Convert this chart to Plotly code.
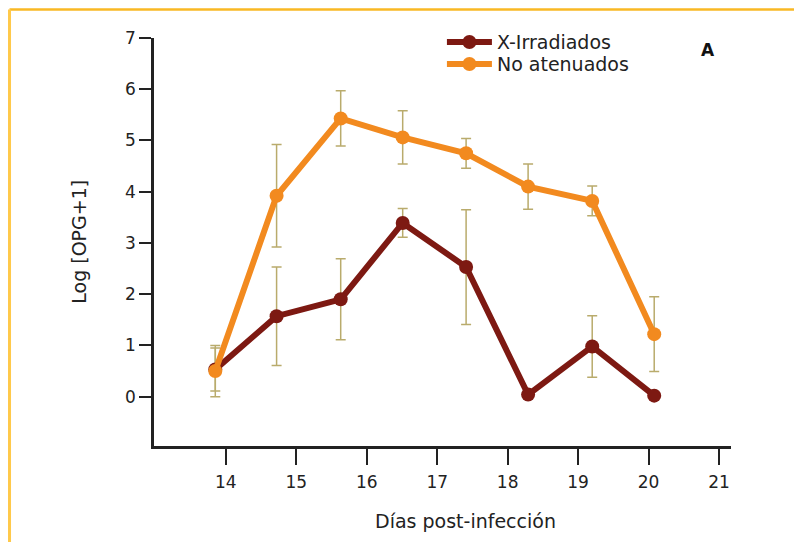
import plotly.graph_objects as go

# Data
days = [13.85, 14.72, 15.63, 16.51, 17.41, 18.29, 19.20, 20.08]
irradiados = [0.53, 1.57, 1.90, 3.39, 2.53, 0.04, 0.98, 0.02]
irradiados_err = [0.42, 0.96, 0.79, 0.28, 1.12, 0.0, 0.60, 0.0]
no_atenuados = [0.50, 3.92, 5.43, 5.06, 4.75, 4.10, 3.82, 1.22]
no_atenuados_err = [0.50, 1.00, 0.54, 0.52, 0.29, 0.44, 0.29, 0.73]
x_ticks = [14, 15, 16, 17, 18, 19, 20, 21]
y_ticks = [0, 1, 2, 3, 4, 5, 6, 7]

c_dark = "#7d1912"
c_orange = "#f28a1f"
c_err = "#b9ab6c"
font_family = "DejaVu Sans"

fig = go.Figure()

# error bars (drawn behind the lines)
for vals, errs in [(no_atenuados, no_atenuados_err), (irradiados, irradiados_err)]:
    fig.add_trace(go.Scatter(
        x=days, y=vals, mode="markers",
        marker=dict(size=1, opacity=0),
        error_y=dict(type="data", array=errs, visible=True,
                     color=c_err, thickness=1.5, width=5),
        showlegend=False, hoverinfo="skip"))

fig.add_trace(go.Scatter(
    x=days, y=irradiados, mode="lines+markers", name="X-Irradiados",
    line=dict(color=c_dark, width=6),
    marker=dict(color=c_dark, size=14), legend="legend"))
fig.add_trace(go.Scatter(
    x=days, y=no_atenuados, mode="lines+markers", name="No atenuados",
    line=dict(color=c_orange, width=6),
    marker=dict(color=c_orange, size=14), legend="legend2"))

leg_common = dict(xanchor="left", yanchor="middle", bgcolor="rgba(0,0,0,0)",
                  font=dict(size=19, color="#222222"), itemwidth=45)

fig.update_layout(
    width=794, height=534,
    margin=dict(l=146, r=71, t=30, b=96),
    paper_bgcolor="white", plot_bgcolor="white",
    font=dict(family=font_family, size=18, color="#222222"),
    showlegend=True,
    legend=dict(x=0.499, y=0.990, **leg_common),
    legend2=dict(x=0.499, y=0.936, **leg_common),
    xaxis=dict(range=[12.98, 21.17], tickvals=x_ticks, ticktext=[str(t) for t in x_ticks],
               showgrid=False, zeroline=False, showline=True, linecolor="#222222",
               linewidth=2.5, ticks="outside", ticklen=16, tickwidth=1.5,
               tickcolor="#222222", tickfont=dict(size=17), ticklabelstandoff=3),
    yaxis=dict(range=[-0.963, 7.0], tickvals=y_ticks, ticktext=[str(t) for t in y_ticks],
               showgrid=False, zeroline=False, showline=True, linecolor="#222222",
               linewidth=2.5, ticks="outside", ticklen=12, tickwidth=1.5,
               tickcolor="#222222", tickfont=dict(size=17)),
    annotations=[
        dict(text="Log [OPG+1]", xref="paper", yref="paper", x=-0.153, y=0.5,
             textangle=-90, showarrow=False, font=dict(size=19)),
        dict(text="Días post-infección", xref="paper", yref="paper", x=0.54, y=-0.183,
             showarrow=False, font=dict(size=19), yanchor="middle"),
        dict(text="<b>A</b>", xref="paper", yref="paper", x=0.976, y=1.0,
             showarrow=False, font=dict(size=17, color="#111111")),
    ],
    shapes=[
        dict(type="line", xref="paper", yref="paper", x0=-0.2504, x1=1.3,
             y0=1.0699, y1=1.0699, line=dict(color="#f9b824", width=2.5)),
        dict(type="line", xref="paper", yref="paper", x0=-0.2504, x1=-0.2504,
             y0=1.0699, y1=-0.3, line=dict(color="#ffc94a", width=3)),
    ],
)

fig.write_html("out.html")
